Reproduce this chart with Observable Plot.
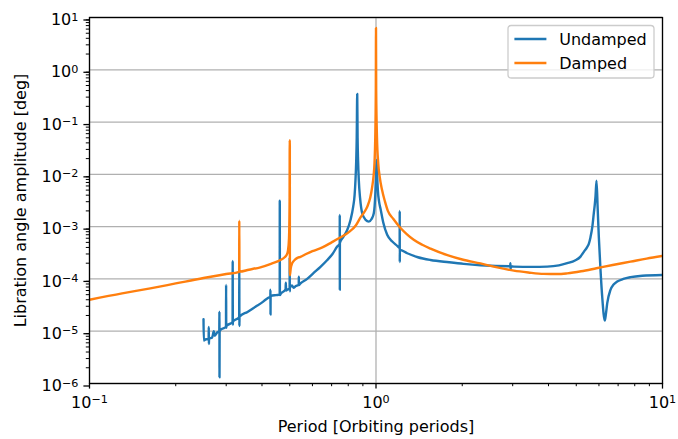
<!DOCTYPE html>
<html>
<head>
<meta charset="utf-8">
<script src="https://cdn.jsdelivr.net/npm/d3@7"></script>
<script src="https://cdn.jsdelivr.net/npm/@observablehq/plot@0.6"></script>
<style>
  html, body { margin: 0; padding: 0; background: white; }
  #chart { position: relative; width: 678px; height: 439px; }
</style>
</head>
<body>
<div id="chart"></div>
<script>
// ---------- data ----------
const seriesNames = ["Undamped", "Damped"];
const seriesColors = ["#1f77b4", "#ff7f0e"];
const xLabel = "Period [Orbiting periods]";
const yLabel = "Libration angle amplitude [deg]";
const xTicks = [0.1, 1, 10];
const yTicks = [1e-6, 1e-5, 1e-4, 1e-3, 1e-2, 1e-1, 1, 10];

const undampedPeriod = [
  0.2500, 0.2506, 0.2550, 0.2605, 0.2608, 0.2611, 0.2614, 0.2680, 0.2716, 0.2735,
  0.2791, 0.2838, 0.2841, 0.2843, 0.2846, 0.2866, 0.2995, 0.2998, 0.3001, 0.3004,
  0.3158, 0.3161, 0.3164, 0.3167, 0.3330, 0.3333, 0.3336, 0.3339, 0.3560, 0.3796,
  0.4006, 0.4114, 0.4222, 0.4278, 0.4281, 0.4284, 0.4287, 0.4473, 0.4612, 0.4615,
  0.4619, 0.4660, 0.4720, 0.4835, 0.4845, 0.4855, 0.4920, 0.4995, 0.4998, 0.5002,
  0.5005, 0.5090, 0.5150, 0.5250, 0.5375, 0.5378, 0.5381, 0.5450, 0.5750, 0.6060,
  0.6400, 0.6760, 0.7050, 0.7320, 0.7470, 0.7473, 0.7477, 0.7481, 0.7700, 0.7934,
  0.8147, 0.8325, 0.8420, 0.8480, 0.8530, 0.8565, 0.8599, 0.8625, 0.8660, 0.8709,
  0.8800, 0.8951, 0.9200, 0.9438, 0.9650, 0.9824, 0.9950, 1.0000, 1.0050, 1.0090,
  1.0150, 1.0250, 1.0370, 1.0600, 1.0940, 1.1400, 1.1860, 1.2095, 1.2100, 1.2106,
  1.2112, 1.2850, 1.4000, 1.5500, 1.8000, 2.0250, 2.3160, 2.9400, 2.9450, 2.9500,
  2.9550, 3.0270, 3.5000, 3.9580, 4.3500, 4.6500, 4.9500, 5.1740, 5.3130, 5.4500,
  5.5310, 5.6070, 5.6900, 5.7570, 5.8050, 5.8360, 5.8840, 5.9400, 5.9950, 6.0760,
  6.1590, 6.2890, 6.3500, 6.4120, 6.5830, 6.7500, 6.9480, 7.3000, 7.7310, 8.5000,
  10.000
];
const undampedAmp = [
  1.69e-5, 6.6e-6, 7.0e-6, 7.0e-6, 1.2e-5, 5.7e-6, 7.2e-6, 7.6e-6, 1.0e-5, 8.2e-6,
  9.5e-6, 1.0e-5, 2.37e-5, 1.32e-6, 9.8e-6, 1.06e-5, 1.22e-5, 7.7e-5, 1.16e-5, 1.26e-5,
  1.5e-5, 2.2e-4, 1.32e-5, 1.54e-5, 1.85e-5, 1.5e-4, 1.26e-5, 1.9e-5, 2.34e-5, 2.95e-5,
  3.56e-5, 4.0e-5, 4.4e-5, 4.6e-5, 6.2e-5, 2.08e-5, 4.7e-5, 4.9e-5, 5.0e-5, 3.14e-3,
  4.9e-5, 5.3e-5, 5.6e-5, 6.3e-5, 8.5e-5, 6.0e-5, 6.3e-5, 6.5e-5, 2.6e-4, 5.8e-5,
  6.8e-5, 7.5e-5, 6.8e-5, 7.3e-5, 7.8e-5, 1.1e-4, 7.6e-5, 8.2e-5, 1.0e-4, 1.3e-4,
  1.7e-4, 2.3e-4, 3.0e-4, 4.15e-4, 4.7e-4, 1.67e-3, 6.2e-5, 4.9e-4, 6.4e-4, 8.6e-4,
  1.34e-3, 2.41e-3, 4.0e-3, 7.8e-3, 0.018, 0.05, 0.344, 0.05, 0.018, 7.8e-3,
  3.5e-3, 1.8e-3, 1.35e-3, 1.25e-3, 1.4e-3, 1.8e-3, 4.5e-3, 0.0100, 0.0188, 0.0100,
  5.0e-3, 3.0e-3, 2.2e-3, 1.2e-3, 7.0e-4, 5.2e-4, 4.3e-4, 3.9e-4, 2.0e-3, 2.1e-4,
  3.6e-4, 3.1e-4, 2.6e-4, 2.3e-4, 2.08e-4, 1.94e-4, 1.83e-4, 1.75e-4, 2.0e-4, 1.5e-4,
  1.74e-4, 1.72e-4, 1.7e-4, 1.72e-4, 1.82e-4, 2.0e-4, 2.25e-4, 2.67e-4, 3.3e-4, 4.0e-4,
  4.7e-4, 6.3e-4, 1.0e-3, 1.8e-3, 2.7e-3, 3.75e-3, 7.6e-3, 2.2e-3, 6.3e-4, 1.49e-4,
  4.6e-5, 1.6e-5, 2.2e-5, 3.4e-5, 6.2e-5, 7.8e-5, 8.9e-5, 1.0e-4, 1.08e-4, 1.15e-4,
  1.19e-4
];

const dampedPeriod = [
  0.100, 0.130, 0.163, 0.200, 0.250, 0.300, 0.3330, 0.3333, 0.3337, 0.360,
  0.395, 0.430, 0.464, 0.480, 0.488, 0.493, 0.497, 0.4993, 0.49995, 0.5002,
  0.5006, 0.504, 0.510, 0.520, 0.530, 0.545, 0.570, 0.600, 0.650, 0.700,
  0.750, 0.800, 0.850, 0.883, 0.910, 0.932, 0.955, 0.970, 0.980, 0.988,
  0.994, 0.9985, 1.000, 1.0015, 1.008, 1.018, 1.030, 1.050, 1.075, 1.100,
  1.150, 1.218, 1.280, 1.354, 1.450, 1.550, 1.775, 2.000, 2.316, 2.600,
  3.027, 3.400, 3.850, 4.300, 4.650, 5.200, 5.880, 6.700, 7.730, 8.800,
  10.00
];
const dampedAmp = [
  4.0e-5, 5.3e-5, 6.6e-5, 8.2e-5, 1.04e-4, 1.24e-4, 1.37e-4, 1.3e-3, 1.38e-4, 1.5e-4,
  1.67e-4, 1.95e-4, 2.3e-4, 2.6e-4, 2.9e-4, 3.5e-4, 6.0e-4, 3.0e-3, 0.045, 0.045,
  1.17e-4, 1.6e-4, 2.0e-4, 2.3e-4, 2.5e-4, 2.65e-4, 3.0e-4, 3.4e-4, 4.0e-4, 5.0e-4,
  6.2e-4, 7.7e-4, 1.05e-3, 1.5e-3, 1.9e-3, 2.4e-3, 3.6e-3, 5.8e-3, 9.0e-3, 0.0165,
  0.05, 0.4, 6.3, 0.4, 0.05, 0.0165, 9.0e-3, 5.0e-3, 3.0e-3, 2.0e-3,
  1.4e-3, 9.4e-4, 7.2e-4, 5.6e-4, 4.5e-4, 3.8e-4, 2.85e-4, 2.35e-4, 1.98e-4, 1.7e-4,
  1.44e-4, 1.33e-4, 1.25e-4, 1.24e-4, 1.28e-4, 1.4e-4, 1.6e-4, 1.85e-4, 2.14e-4, 2.45e-4,
  2.75e-4
];

// ---------- tables ----------
const undamped = undampedPeriod.map((p, i) => ({period: p, amp: undampedAmp[i]}));
const damped = dampedPeriod.map((p, i) => ({period: p, amp: dampedAmp[i]}));

const minorX = [];
for (const base of [0.1, 1]) for (let k = 2; k <= 9; k++) minorX.push(base * k);
const minorY = [];
for (let e = -6; e <= 0; e++) for (let k = 2; k <= 9; k++) minorY.push(k * Math.pow(10, e));

const expFmt = d => `10^${Math.round(Math.log10(d))}`;
const FONT = "DejaVu Sans, sans-serif";

const chart = Plot.plot({
  width: 678,
  height: 439,
  marginLeft: 89,
  marginRight: 16,
  marginTop: 17,
  marginBottom: 56,
  style: {fontFamily: FONT, fontSize: "16px", background: "white", color: "black", overflow: "visible"},
  x: {type: "log", domain: [0.1, 10]},
  y: {type: "log", domain: [1e-6, 10]},
  marks: [
    Plot.gridY({ticks: yTicks, stroke: "#b0b0b0", strokeOpacity: 1, strokeWidth: 1.28}),
    Plot.gridX({ticks: xTicks, stroke: "#b0b0b0", strokeOpacity: 1, strokeWidth: 1.28}),
    Plot.axisX({ticks: minorX, tickSize: 3.2, tickFormat: () => "", label: null, strokeWidth: 1, stroke: "black"}),
    Plot.axisY({ticks: minorY, tickSize: 3.2, tickFormat: () => "", label: null, strokeWidth: 1, stroke: "black"}),
    Plot.axisX({ticks: xTicks, tickSize: 5.6, tickPadding: 7.5, tickFormat: expFmt, label: null,
                strokeWidth: 1.28, stroke: "black", fontSize: 16, fill: "black"}),
    Plot.axisY({ticks: yTicks, tickSize: 5.6, tickPadding: 5.5, tickFormat: expFmt, label: null,
                strokeWidth: 1.28, stroke: "black", fontSize: 16, fill: "black", dy: 2.5}),
    Plot.line(undamped, {x: "period", y: "amp", stroke: seriesColors[0], strokeWidth: 2.4,
                         curve: "monotone-x", strokeLinejoin: "round", clip: true}),
    Plot.line(damped, {x: "period", y: "amp", stroke: seriesColors[1], strokeWidth: 2.4,
                       curve: "monotone-x", strokeLinejoin: "round", clip: true}),
    Plot.frame({stroke: "black", strokeWidth: 1.28}),
    Plot.text([xLabel], {text: d => d, frameAnchor: "bottom", lineAnchor: "top", dy: 37,
                         fontSize: 16, fill: "black"}),
    Plot.text([yLabel], {text: d => d, frameAnchor: "left", textAnchor: "middle", dx: -69, rotate: -90,
                         fontSize: 16, fill: "black"})
  ]
});

// superscript exponents on tick labels
d3.select(chart).selectAll('g[aria-label="x-axis tick label"] text, g[aria-label="y-axis tick label"] text')
  .each(function () {
    const s = this.textContent;
    if (!s.startsWith("10^")) return;
    const e = s.slice(3).replace("-", "\u2212");
    this.textContent = "";
    const t = d3.select(this);
    t.append("tspan").text("10");
    t.append("tspan").attr("dy", "-4.5").attr("font-size", "11.2").text(e);
  });

// legend (upper right, inside the axes)
const lg = d3.select(chart).append("g").attr("font-family", FONT).attr("font-size", 16)
  .attr("text-anchor", "start");
lg.append("rect")
  .attr("x", 508).attr("y", 25.5).attr("width", 146).attr("height", 52.5)
  .attr("rx", 3.2).attr("fill", "white").attr("fill-opacity", 0.8)
  .attr("stroke", "#cccccc").attr("stroke-width", 1.28);
seriesNames.forEach((name, i) => {
  const yy = 39 + 24 * i;
  lg.append("line").attr("x1", 514.4).attr("x2", 546.4).attr("y1", yy).attr("y2", yy)
    .attr("stroke", seriesColors[i]).attr("stroke-width", 2.4);
  lg.append("text").attr("x", 559.2).attr("y", yy).attr("dy", "0.36em")
    .attr("text-anchor", "start").attr("fill", "black").text(name);
});

document.getElementById("chart").appendChild(chart);
</script>
</body>
</html>
